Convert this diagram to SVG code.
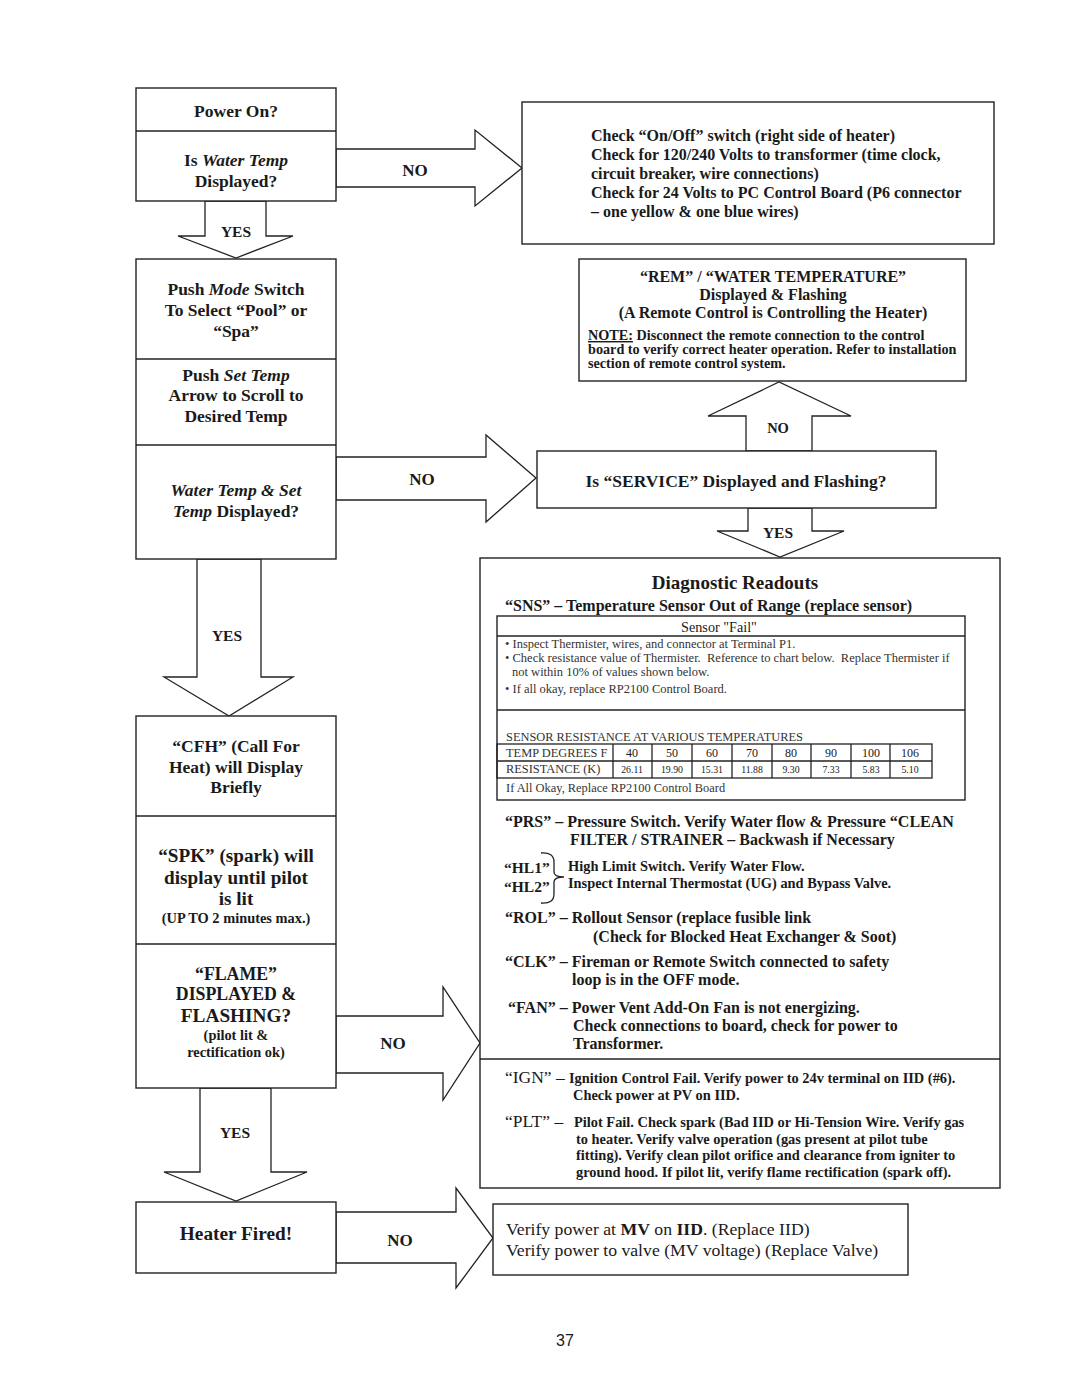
<svg xmlns="http://www.w3.org/2000/svg" width="1080" height="1397" viewBox="0 0 1080 1397">
<style>
.box{fill:#fff;stroke:#222;stroke-width:1.4}
.ln{stroke:#222;stroke-width:1.3;fill:none}
.arr{fill:#fff;stroke:#222;stroke-width:1.3}
text{font-family:"Liberation Serif","Times New Roman",serif;fill:#1a1a1a}
.b{font-weight:bold}
.c{text-anchor:middle}
.i{font-style:italic}
.L{font-size:17.5px}
.f16{font-size:16px}
.f14{font-size:14.4px}
.lbl{font-size:17px;font-weight:bold;text-anchor:middle}
.yes{font-size:15.5px;font-weight:bold;text-anchor:middle}
.sm{font-size:12.5px;fill:#333}
.tb{font-size:12.4px;fill:#333}
</style>
<rect width="1080" height="1397" fill="#fff"/>

<g id="connectors">
<polygon class="arr" points="336,149 475,149 475,130 522,168 475,206 475,187 336,187"/>
<text class="lbl" x="415" y="176">NO</text>
<polygon class="arr" points="205,201 205,236 178,236 236,258 293,236 266,236 266,201"/>
<text class="yes" x="236" y="237">YES</text>
<polygon class="arr" points="336,457 486,457 486,435 536,478 486,522 486,500 336,500"/>
<text class="lbl" x="422" y="485">NO</text>
<polygon class="arr" points="197,559 197,677 164,677 229,716 293,677 261,677 261,559"/>
<text class="yes" x="227" y="641">YES</text>
<polygon class="arr" points="746,451 746,416 708,416 779,382 851,416 812,416 812,451"/>
<text class="b c" font-size="14.5" x="778" y="433">NO</text>
<polygon class="arr" points="748,508 748,531 717,531 780,557 844,531 812,531 812,508"/>
<text class="yes" x="778" y="538">YES</text>
<polygon class="arr" points="336,1016 443,1016 443,987 480,1043 443,1100 443,1073 336,1073"/>
<text class="lbl" x="393" y="1049">NO</text>
<polygon class="arr" points="200,1088 200,1172 164,1172 236,1201 307,1172 271,1172 271,1088"/>
<text class="yes" x="235" y="1138">YES</text>
<polygon class="arr" points="336,1212 456,1212 456,1188 493,1238 456,1288 456,1263 336,1263"/>
<text class="lbl" x="400" y="1246">NO</text>
</g>

<g id="power-on">
<rect class="box" x="136" y="88" width="200" height="113"/>
<line class="ln" x1="136" y1="131" x2="336" y2="131"/>
<text class="b c L" x="236" y="117">Power On?</text>
<text class="b c L" x="236" y="166">Is <tspan class="i">Water Temp</tspan></text>
<text class="b c L" x="236" y="187">Displayed?</text>
</g>

<g id="check-power">
<rect class="box" x="522" y="102" width="472" height="142"/>
<text class="b f16" x="591" y="141">Check “On/Off” switch (right side of heater)</text>
<text class="b f16" x="591" y="160">Check for 120/240 Volts to transformer (time clock,</text>
<text class="b f16" x="591" y="179">circuit breaker, wire connections)</text>
<text class="b f16" x="591" y="198">Check for 24 Volts to PC Control Board (P6 connector</text>
<text class="b f16" x="591" y="217">– one yellow &amp; one blue wires)</text>
</g>

<g id="mode-settemp">
<rect class="box" x="136" y="259" width="200" height="300"/>
<line class="ln" x1="136" y1="359" x2="336" y2="359"/>
<line class="ln" x1="136" y1="445" x2="336" y2="445"/>
<text class="b c L" x="236" y="295">Push <tspan class="i">Mode</tspan> Switch</text>
<text class="b c L" x="236" y="316">To Select “Pool” or</text>
<text class="b c L" x="236" y="337">“Spa”</text>
<text class="b c L" x="236" y="381">Push <tspan class="i">Set Temp</tspan></text>
<text class="b c L" x="236" y="401">Arrow to Scroll to</text>
<text class="b c L" x="236" y="422">Desired Temp</text>
<text class="b c L" x="236" y="496"><tspan class="i">Water Temp &amp; Set</tspan></text>
<text class="b c L" x="236" y="517"><tspan class="i">Temp</tspan> Displayed?</text>
</g>

<g id="rem">
<rect class="box" x="579" y="259" width="387" height="122"/>
<text class="b c f16" x="773" y="282">“REM” / “WATER TEMPERATURE”</text>
<text class="b c f16" x="773" y="300">Displayed &amp; Flashing</text>
<text class="b c f16" x="773" y="318">(A Remote Control is Controlling the Heater)</text>
<text class="b" font-size="14.2" x="588" y="340"><tspan text-decoration="underline">NOTE:</tspan> Disconnect the remote connection to the control</text>
<text class="b" font-size="14.2" x="588" y="354">board to verify correct heater operation. Refer to installation</text>
<text class="b" font-size="14.2" x="588" y="368">section of remote control system.</text>
</g>

<g id="service">
<rect class="box" x="537" y="451" width="399" height="57"/>
<text class="b c" font-size="17.5" x="736" y="487">Is “SERVICE” Displayed and Flashing?</text>
</g>

<g id="diagnostic">
<rect class="box" x="480" y="558" width="520" height="630"/>
<line class="ln" x1="480" y1="1059" x2="1000" y2="1059"/>
<text class="b c" x="735" y="589" font-size="19">Diagnostic Readouts</text>
<text class="b f16" x="505" y="611">“SNS” – Temperature Sensor Out of Range (replace sensor)</text>
<rect class="box" x="497" y="616" width="468" height="184"/>
<line class="ln" x1="497" y1="636" x2="965" y2="636"/>
<line class="ln" x1="497" y1="710" x2="965" y2="710"/>
<text class="c" x="719" y="632" font-size="14.2" fill="#333">Sensor "Fail"</text>
<text class="sm" x="505" y="648">• Inspect Thermister, wires, and connector at Terminal P1.</text>
<text class="sm" x="505" y="662">• Check resistance value of Thermister.&#160; Reference to chart below.&#160; Replace Thermister if</text>
<text class="sm" x="512" y="676">not within 10% of values shown below.</text>
<text class="sm" x="505" y="693">• If all okay, replace RP2100 Control Board.</text>
<text class="tb" x="506" y="741">SENSOR RESISTANCE AT VARIOUS TEMPERATURES</text>
<g class="ln">
<rect x="497" y="744" width="435" height="34"/>
<line x1="497" y1="761" x2="932" y2="761"/>
<line x1="613" y1="744" x2="613" y2="778"/>
<line x1="652" y1="744" x2="652" y2="778"/>
<line x1="692" y1="744" x2="692" y2="778"/>
<line x1="732" y1="744" x2="732" y2="778"/>
<line x1="772" y1="744" x2="772" y2="778"/>
<line x1="811" y1="744" x2="811" y2="778"/>
<line x1="851" y1="744" x2="851" y2="778"/>
<line x1="890" y1="744" x2="890" y2="778"/>
</g>
<text class="tb" x="506" y="757">TEMP DEGREES F</text>
<text class="tb" x="506" y="773">RESISTANCE (K)</text>
<g font-size="12" fill="#333" text-anchor="middle">
<text x="632" y="757">40</text><text x="672" y="757">50</text><text x="712" y="757">60</text><text x="752" y="757">70</text><text x="791" y="757">80</text><text x="831" y="757">90</text><text x="871" y="757">100</text><text x="910" y="757">106</text>
</g>
<g font-size="9.8" fill="#333" text-anchor="middle">
<text x="632" y="773">26.11</text><text x="672" y="773">19.90</text><text x="712" y="773">15.31</text><text x="752" y="773">11.88</text><text x="791" y="773">9.30</text><text x="831" y="773">7.33</text><text x="871" y="773">5.83</text><text x="910" y="773">5.10</text>
</g>
<text class="tb" x="506" y="792">If All Okay, Replace RP2100 Control Board</text>

<text class="b f16" x="505" y="827">“PRS” – Pressure Switch. Verify Water flow &amp; Pressure “CLEAN</text>
<text class="b f16" x="570" y="845">FILTER / STRAINER – Backwash if Necessary</text>
<text class="b" font-size="15.5" x="504" y="873">“HL1”</text>
<text class="b" font-size="15.5" x="504" y="892">“HL2”</text>
<path class="ln" d="M541,853 Q554,852 554,862 L554,872 Q554,877 564,877 Q554,877 554,882 L554,894 Q554,904 541,903"/>
<text class="b f14" x="568" y="871">High Limit Switch. Verify Water Flow.</text>
<text class="b f14" x="568" y="888">Inspect Internal Thermostat (UG) and Bypass Valve.</text>
<text class="b f16" x="505" y="923">“ROL” – Rollout Sensor (replace fusible link</text>
<text class="b f16" x="593" y="942">(Check for Blocked Heat Exchanger &amp; Soot)</text>
<text class="b f16" x="505" y="967">“CLK” – Fireman or Remote Switch connected to safety</text>
<text class="b f16" x="572" y="985">loop is in the OFF mode.</text>
<text class="b f16" x="508" y="1013">“FAN” – Power Vent Add-On Fan is not energizing.</text>
<text class="b f16" x="573" y="1031">Check connections to board, check for power to</text>
<text class="b f16" x="573" y="1049">Transformer.</text>

<text x="505" y="1083" font-size="17.5">“IGN” –</text>
<text class="b f14" x="569" y="1083">Ignition Control Fail. Verify power to 24v terminal on IID (#6).</text>
<text class="b f14" x="573" y="1100">Check power at PV on IID.</text>
<text x="505" y="1127" font-size="17.5">“PLT” –</text>
<text class="b f14" x="574" y="1127">Pilot Fail. Check spark (Bad IID or Hi-Tension Wire. Verify gas</text>
<text class="b f14" x="576" y="1144">to heater. Verify valve operation (gas present at pilot tube</text>
<text class="b f14" x="576" y="1160">fitting). Verify clean pilot orifice and clearance from igniter to</text>
<text class="b f14" x="576" y="1177">ground hood. If pilot lit, verify flame rectification (spark off).</text>
</g>

<g id="ignition-sequence">
<rect class="box" x="136" y="716" width="200" height="372"/>
<line class="ln" x1="136" y1="816" x2="336" y2="816"/>
<line class="ln" x1="136" y1="944" x2="336" y2="944"/>
<text class="b c L" x="236" y="752">“CFH” (Call For</text>
<text class="b c L" x="236" y="773">Heat) will Display</text>
<text class="b c L" x="236" y="793">Briefly</text>
<text class="b c" x="236" y="862" font-size="19.2">“SPK” (spark) will</text>
<text class="b c" x="236" y="884" font-size="19.2">display until pilot</text>
<text class="b c" x="236" y="905" font-size="19.2">is lit</text>
<text class="b c f14" x="236" y="923">(UP TO 2 minutes max.)</text>
<text class="b c" x="236" y="980" font-size="17.8">“FLAME”</text>
<text class="b c" x="236" y="1000" font-size="17.8">DISPLAYED &amp;</text>
<text class="b c" x="236" y="1022" font-size="19.3">FLASHING?</text>
<text class="b c f14" x="236" y="1040">(pilot lit &amp;</text>
<text class="b c f14" x="236" y="1057">rectification ok)</text>
</g>

<g id="heater-fired">
<rect class="box" x="136" y="1202" width="200" height="71"/>
<text class="b c" x="236" y="1240" font-size="19.3">Heater Fired!</text>
</g>

<g id="verify-mv">
<rect class="box" x="493" y="1204" width="415" height="71"/>
<text x="506" y="1235" font-size="17.7">Verify power at <tspan font-weight="bold">MV</tspan> on <tspan font-weight="bold">IID</tspan>. (Replace IID)</text>
<text x="506" y="1256" font-size="17.7">Verify power to valve (MV voltage) (Replace Valve)</text>
</g>

<text x="565" y="1346" font-size="16" text-anchor="middle" style="font-family:'Liberation Sans',Arial,sans-serif">37</text>
</svg>
